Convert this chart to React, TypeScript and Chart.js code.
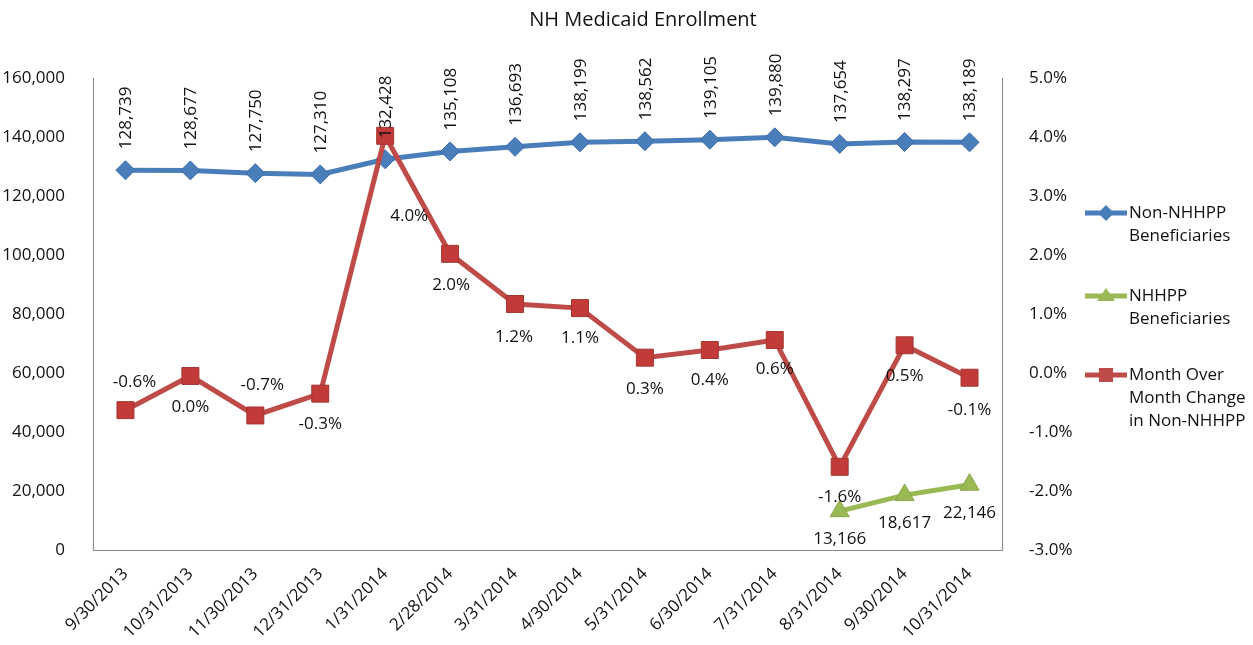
import React, { useEffect, useRef } from "react";
import { Chart, registerables } from "chart.js";

Chart.register(...registerables);

const categories = [
  "9/30/2013", "10/31/2013", "11/30/2013", "12/31/2013", "1/31/2014", "2/28/2014", "3/31/2014",
  "4/30/2014", "5/31/2014", "6/30/2014", "7/31/2014", "8/31/2014", "9/30/2014", "10/31/2014",
];
const nonNhhppValues = [
  128739, 128677, 127750, 127310, 132428, 135108, 136693, 138199, 138562, 139105, 139880, 137654, 138297, 138189,
];
const nhhppValues: (number | null)[] = [
  null, null, null, null, null, null, null, null, null, null, null, 13166, 18617, 22146,
];
const monthChangeValues = [
  -0.63, -0.05, -0.72, -0.35, 4.02, 2.02, 1.17, 1.1, 0.26, 0.39, 0.56, -1.59, 0.47, -0.08,
];
const monthChangeLabels = [
  "-0.6%", "0.0%", "-0.7%", "-0.3%", "4.0%", "2.0%", "1.2%", "1.1%", "0.3%", "0.4%", "0.6%", "-1.6%", "0.5%", "-0.1%",
];
const leftAxis = { min: 0, max: 160000, step: 20000 };
const rightAxis = { min: -3, max: 5, step: 1 };
const seriesNames = [
  ["Non-NHHPP", "Beneficiaries"],
  ["NHHPP", "Beneficiaries"],
  ["Month Over", "Month Change", "in Non-NHHPP"],
];
const titleText = "NH Medicaid Enrollment";

// style: label offsets (dx, dy) for the month-over-month labels
const changeLabelOffsets = [
  [9, -28], [0, 31], [7, -30], [0, 31], [24, 80], [1, 31], [-1, 33], [0, 30], [0, 31], [0, 30], [0, 29], [0, 30], [0, 31], [0, 32],
];

const FONT = "'Open Sans', sans-serif";
const BLUE = "#4A7EBB";
const RED = "#BE4B48";
const GREEN = "#98B954";
const TEXT = "#111";
const AXIS = "#888";

const fmtInt = (v: number) => Math.round(v).toLocaleString("en-US");

const labelsPlugin = {
  id: "customLabels",
  afterDatasetsDraw(chart: any) {
    const ctx = chart.ctx;
    ctx.save();
    ctx.fillStyle = TEXT;
    ctx.font = `17px ${FONT}`;
    const mBlue = chart.getDatasetMeta(0);
    mBlue.data.forEach((pt: any, i: number) => {
      ctx.save();
      ctx.translate(pt.x + 1, pt.y - 21);
      ctx.rotate(-Math.PI / 2);
      ctx.textAlign = "left";
      ctx.textBaseline = "middle";
      ctx.fillText(fmtInt(nonNhhppValues[i]), 0, 0);
      ctx.restore();
    });
    const mRed = chart.getDatasetMeta(2);
    ctx.textAlign = "center";
    ctx.textBaseline = "middle";
    mRed.data.forEach((pt: any, i: number) => {
      const [dx, dy] = changeLabelOffsets[i];
      ctx.fillText(monthChangeLabels[i], pt.x + dx, pt.y + dy);
    });
    const mGreen = chart.getDatasetMeta(1);
    mGreen.data.forEach((pt: any, i: number) => {
      const v = nhhppValues[i];
      if (v == null) return;
      ctx.fillText(fmtInt(v), pt.x, pt.y + 28);
    });
    ctx.restore();
  },
  afterDraw(chart: any) {
    const ctx = chart.ctx;
    ctx.save();
    ctx.fillStyle = TEXT;
    ctx.font = `20px ${FONT}`;
    ctx.textAlign = "center";
    ctx.textBaseline = "middle";
    ctx.fillText(titleText, 643, 20);
    const colors = [BLUE, GREEN, RED];
    const styles = ["diamond", "triangle", "square"];
    const tops = [213, 296, 375];
    ctx.font = `17px ${FONT}`;
    ctx.textAlign = "left";
    for (let k = 0; k < 3; k++) {
      const y = tops[k];
      ctx.strokeStyle = colors[k];
      ctx.lineWidth = 5;
      ctx.beginPath();
      ctx.moveTo(1085, y);
      ctx.lineTo(1127, y);
      ctx.stroke();
      ctx.fillStyle = colors[k];
      const cx = 1106;
      ctx.beginPath();
      if (styles[k] === "diamond") {
        ctx.moveTo(cx, y - 8);
        ctx.lineTo(cx + 8, y);
        ctx.lineTo(cx, y + 8);
        ctx.lineTo(cx - 8, y);
      } else if (styles[k] === "triangle") {
        ctx.moveTo(cx, y - 8);
        ctx.lineTo(cx + 9, y + 5);
        ctx.lineTo(cx - 9, y + 5);
      } else {
        ctx.rect(cx - 7, y - 7, 14, 14);
      }
      ctx.closePath();
      ctx.fill();
      ctx.fillStyle = TEXT;
      seriesNames[k].forEach((line, j) => {
        ctx.fillText(line, 1129, y + j * 23);
      });
    }
    ctx.restore();
  },
};

export default function App() {
  const ref = useRef<HTMLCanvasElement>(null);
  useEffect(() => {
    if (!ref.current) return;
    const chart = new Chart(ref.current, {
      type: "line",
      data: {
        labels: categories,
        datasets: [
          {
            label: seriesNames[0].join(" "),
            data: nonNhhppValues,
            yAxisID: "y",
            borderColor: BLUE,
            backgroundColor: BLUE,
            borderWidth: 5,
            pointStyle: "rectRot",
            pointRadius: 9.5,
            pointBorderWidth: 1,
            pointBorderColor: "#3D6DA8",
            tension: 0,
            order: 1,
          },
          {
            label: seriesNames[1].join(" "),
            data: nhhppValues,
            yAxisID: "y",
            borderColor: GREEN,
            backgroundColor: GREEN,
            borderWidth: 5,
            pointStyle: "triangle",
            pointRadius: 11,
            pointBorderWidth: 1,
            pointBorderColor: "#86A546",
            tension: 0,
            spanGaps: false,
            order: 2,
          },
          {
            label: seriesNames[2].join(" "),
            data: monthChangeValues,
            yAxisID: "y1",
            borderColor: RED,
            backgroundColor: "#C23B38",
            borderWidth: 5,
            pointStyle: "rect",
            pointRadius: 12,
            pointBorderWidth: 1,
            pointBorderColor: "#A33532",
            tension: 0,
            order: 0,
          },
        ],
      },
      options: {
        responsive: true,
        maintainAspectRatio: false,
        animation: false,
        layout: { padding: { top: 78, right: 171, bottom: 0, left: 0 } },
        plugins: {
          legend: { display: false },
          title: { display: false },
          tooltip: { enabled: false },
        },
        scales: {
          x: {
            type: "category",
            offset: true,
            grid: { display: false },
            border: { display: true, color: AXIS, width: 1 },
            ticks: {
              font: { family: FONT, size: 17 },
              color: TEXT,
              minRotation: 45,
              maxRotation: 45,
              padding: 6,
              autoSkip: false,
            },
            afterFit: (s: any) => {
              s.height = 95;
            },
          },
          y: {
            position: "left",
            min: leftAxis.min,
            max: leftAxis.max,
            grid: { display: false },
            border: { display: true, color: AXIS, width: 1 },
            ticks: {
              stepSize: leftAxis.step,
              font: { family: FONT, size: 17 },
              color: TEXT,
              padding: 20,
              callback: (v: any) => fmtInt(Number(v)),
            },
            afterFit: (s: any) => {
              s.width = 93;
            },
          },
          y1: {
            position: "right",
            min: rightAxis.min,
            max: rightAxis.max,
            grid: { display: false },
            border: { display: true, color: AXIS, width: 1 },
            ticks: {
              stepSize: rightAxis.step,
              font: { family: FONT, size: 17 },
              color: TEXT,
              padding: 19,
              callback: (v: any) => Number(v).toFixed(1) + "%",
            },
            afterFit: (s: any) => {
              s.width = 80;
            },
          },
        },
      },
      plugins: [labelsPlugin],
    });
    return () => chart.destroy();
  }, []);
  return (
    <div style={{ position: "fixed", left: 0, top: 0, width: 1253, height: 645, background: "#fff" }}>
      <canvas ref={ref} />
    </div>
  );
}
